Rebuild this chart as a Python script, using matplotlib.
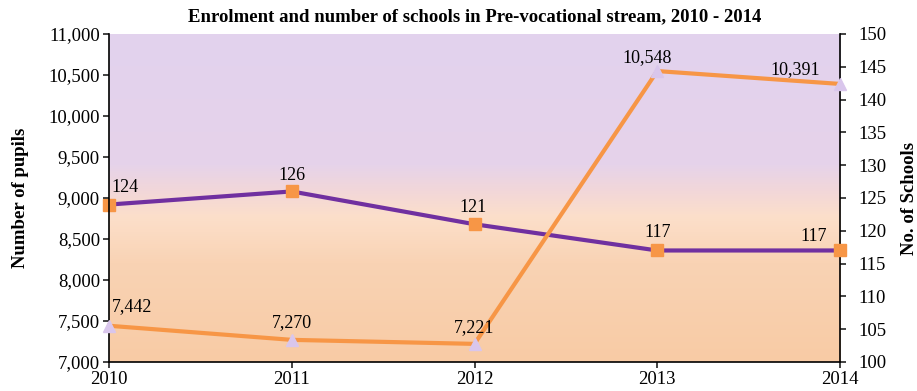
import numpy as np
import matplotlib
matplotlib.use("Agg")
import matplotlib.pyplot as plt
from matplotlib.colors import LinearSegmentedColormap

years = [2010, 2011, 2012, 2013, 2014]
pupils = [7442, 7270, 7221, 10548, 10391]
schools = [124, 126, 121, 117, 117]

plt.rcParams['font.family'] = ['Liberation Serif', 'DejaVu Serif']

fig = plt.figure(figsize=(9.17, 3.91), dpi=100)
ax1 = fig.add_axes([109 / 917, 1 - 362 / 391, (840 - 109) / 917, (362 - 34) / 391])
ax2 = ax1.twinx()
ax1.set_zorder(2)
ax2.set_zorder(1)
ax1.patch.set_visible(False)

# background fill, purple at the top fading to peach at the bottom
bg = LinearSegmentedColormap.from_list('bg', [
    (0.0, '#f8cba5'),
    (0.30, '#f9d3b4'),
    (0.44, '#fcdfca'),
    (0.52, '#f2d7d9'),
    (0.60, '#e6d3ea'),
    (1.0, '#e2d2ee'),
])
grad = np.linspace(0, 1, 256).reshape(-1, 1)
ax2.imshow(grad, cmap=bg, origin='lower', aspect='auto',
           extent=[0, 1, 0, 1], transform=ax2.transAxes, zorder=0)

ax2.plot(years, schools, color='#7030a0', lw=3, marker='s', ms=9,
         mfc='#f79646', mec='#f79646', clip_on=False, zorder=3)
ax1.plot(years, pupils, color='#f79646', lw=3, marker='^', ms=9,
         mfc='#d9c6ec', mec='#d9c6ec', clip_on=False, zorder=3)

ax1.set_xlim(2010, 2014)
ax1.set_ylim(7000, 11000)
ax2.set_ylim(100, 150)
ax1.set_xticks(years)
ax1.set_yticks(range(7000, 11001, 500))
ax1.yaxis.set_major_formatter(matplotlib.ticker.FuncFormatter(lambda v, p: f'{int(v):,}'))
ax2.set_yticks(range(100, 151, 5))

for ax in (ax1, ax2):
    ax.tick_params(labelsize=13.5, direction='out', length=4.5, width=1.2, color='#222222')
    for s in ax.spines.values():
        s.set_visible(False)
ax1.spines['left'].set_visible(True)
ax1.spines['bottom'].set_visible(True)
ax2.spines['right'].set_visible(True)
ax1.spines['left'].set_linewidth(1.2)
ax1.spines['bottom'].set_linewidth(1.2)
ax2.spines['right'].set_linewidth(1.2)
ax1.tick_params(axis='x', pad=2)
ax1.tick_params(axis='y', pad=2)
ax2.tick_params(axis='y', pad=9)

ax1.set_ylabel('Number of pupils', fontsize=13.5, fontweight='bold', labelpad=14)
ax2.set_ylabel('No. of Schools', fontsize=13.5, fontweight='bold', labelpad=10)
ax1.set_title('Enrolment and number of schools in Pre-vocational stream, 2010 - 2014',
              fontsize=13.5, fontweight='bold', pad=9)

# data labels, offsets in pixels from each point
pup_off = [(3, 19), (0, 17), (0, 16), (-10, 13), (-45, 14)]
pup_ha = ['left', 'center', 'center', 'center', 'center']
for x, y, off, ha in zip(years, pupils, pup_off, pup_ha):
    ax1.annotate(f'{y:,}', (x, y), xytext=off, textcoords='offset pixels',
                 ha=ha, va='center', fontsize=13, zorder=5)

sch_off = [(2, 17), (0, 16), (-1, 17), (0, 18), (-26, 14)]
sch_ha = ['left', 'center', 'center', 'center', 'center']
for x, y, off, ha in zip(years, schools, sch_off, sch_ha):
    ax2.annotate(str(y), (x, y), xytext=off, textcoords='offset pixels',
                 ha=ha, va='center', fontsize=13)

fig.savefig('out.png', dpi=100)
